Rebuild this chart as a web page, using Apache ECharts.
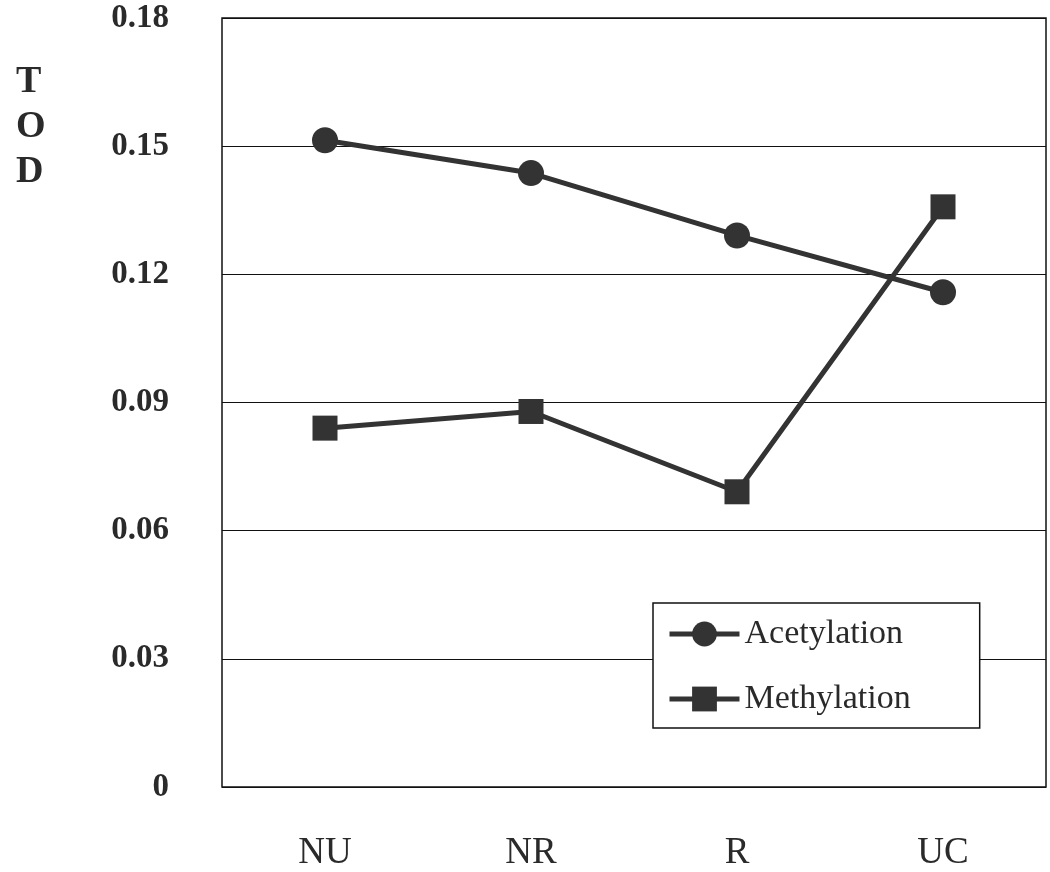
<!DOCTYPE html>
<html>
<head>
<meta charset="utf-8">
<script src="https://cdn.jsdelivr.net/npm/echarts@6/dist/echarts.min.js"></script>
<style>
html,body{margin:0;padding:0;background:#fff;overflow:hidden;}
#chart{width:1050px;height:872px;}
</style>
</head>
<body>
<div id="chart"></div>
<script>
const categories = ['NU', 'NR', 'R', 'UC'];
const acetylation = [0.1514, 0.1437, 0.1291, 0.1158];
const methylation = [0.0840, 0.0879, 0.0691, 0.1358];
const yTicks = { min: 0, max: 0.18, interval: 0.03 };
const yTitle = 'T\nO\nD';

const ink = '#333333';
const chart = echarts.init(document.getElementById('chart'), null, { renderer: 'canvas', width: 1050, height: 872 });
chart.setOption({
  backgroundColor: '#ffffff',
  animation: false,
  title: {
    text: yTitle,
    left: 11,
    top: 55,
    textStyle: { fontFamily: 'Liberation Serif', fontWeight: 'bold', fontSize: 38, lineHeight: 45, color: '#2a2a2a' }
  },
  grid: {
    left: 222, width: 824, top: 18, height: 773,
    show: true, borderColor: '#111', borderWidth: 1.5, backgroundColor: 'transparent'
  },
  legend: {
    left: 653, top: 603,
    orient: 'vertical',
    backgroundColor: '#ffffff',
    borderColor: '#111', borderWidth: 1.5, borderRadius: 0,
    padding: [14, 69, 12, 14],
    itemWidth: 70, itemHeight: 31, itemGap: 31,
    lineStyle: { width: 5, color: ink },
    textStyle: { fontFamily: 'Liberation Serif', fontSize: 34, lineHeight: 31, color: '#2a2a2a' },
    data: ['Acetylation', 'Methylation']
  },
  xAxis: {
    type: 'category',
    data: categories,
    boundaryGap: true,
    axisLine: { show: false },
    axisTick: { show: false },
    axisLabel: { margin: 48, fontFamily: 'Liberation Serif', fontSize: 37, color: '#2a2a2a' }
  },
  yAxis: {
    type: 'value',
    min: yTicks.min, max: yTicks.max, interval: yTicks.interval,
    axisLine: { show: false },
    axisTick: { show: false },
    splitLine: { lineStyle: { color: '#111', width: 1.2 } },
    axisLabel: {
      margin: 53,
      fontFamily: 'Liberation Serif', fontWeight: 'bold', fontSize: 33, color: '#2a2a2a',
      formatter: v => (v === 0 ? '0' : v.toFixed(2))
    }
  },
  series: [
    {
      name: 'Acetylation', type: 'line', data: acetylation,
      symbol: 'circle', symbolSize: 26,
      lineStyle: { color: ink, width: 5 },
      itemStyle: { color: ink },
      z: 3
    },
    {
      name: 'Methylation', type: 'line', data: methylation,
      symbol: 'rect', symbolSize: 25,
      lineStyle: { color: ink, width: 5 },
      itemStyle: { color: ink },
      z: 3
    }
  ]
});
</script>
</body>
</html>
